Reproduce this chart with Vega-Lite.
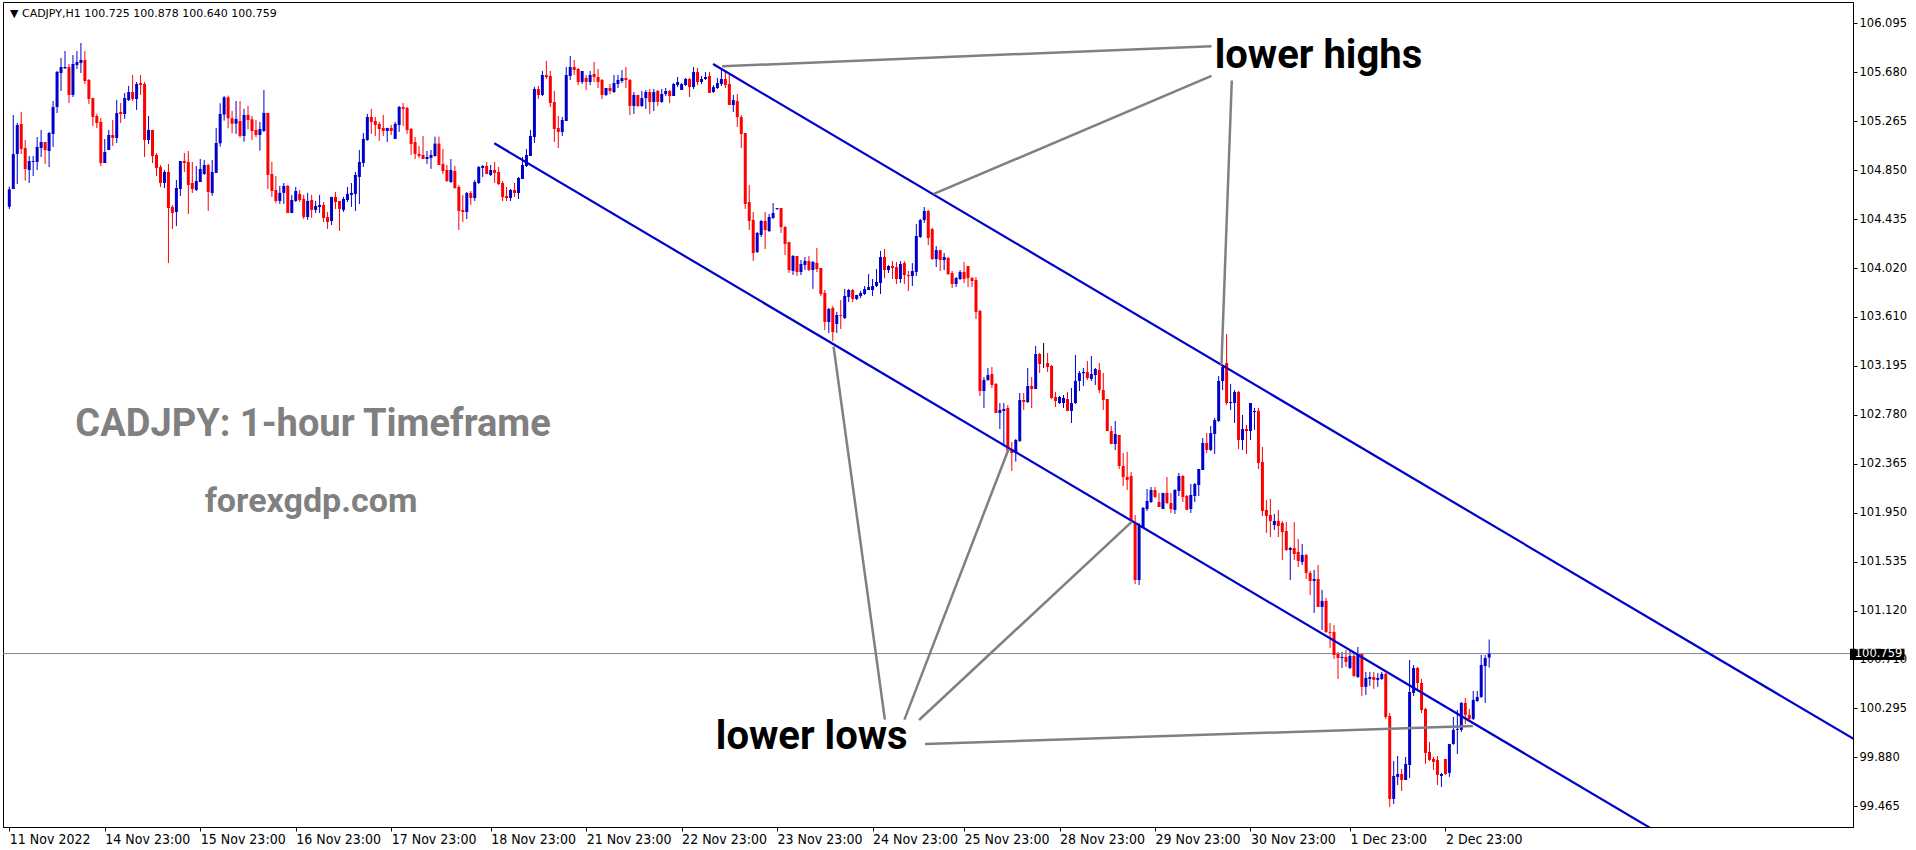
{
"$schema": "https://vega.github.io/schema/vega-lite/v6.json",
"width": 1850, "height": 825,
"padding": {"left": 2, "top": 2, "right": 0, "bottom": 0},
"autosize": {"type": "pad"},
"background": "#ffffff",
"config": {"view": {"stroke": "#000000", "strokeWidth": 1}, "axis": {"grid": false, "domainColor": "#000000", "tickColor": "#000000", "labelColor": "#000000", "domainWidth": 1, "tickWidth": 1}},
"datasets": {
"bars": [
{"i":0,"o":104.542,"h":104.712,"l":104.523,"c":104.689},
{"i":1,"o":104.692,"h":105.318,"l":104.692,"c":104.988},
{"i":2,"o":104.988,"h":105.251,"l":104.734,"c":105.234},
{"i":3,"o":105.242,"h":105.344,"l":104.988,"c":105.031},
{"i":4,"o":105.039,"h":105.107,"l":104.763,"c":104.861},
{"i":5,"o":104.853,"h":104.971,"l":104.743,"c":104.929},
{"i":6,"o":104.921,"h":104.971,"l":104.802,"c":104.929},
{"i":7,"o":104.921,"h":105.132,"l":104.853,"c":105.048},
{"i":8,"o":105.039,"h":105.192,"l":104.963,"c":105.090},
{"i":9,"o":105.090,"h":105.090,"l":104.904,"c":105.022},
{"i":10,"o":105.014,"h":105.175,"l":104.878,"c":105.166},
{"i":11,"o":105.158,"h":105.437,"l":105.048,"c":105.386},
{"i":12,"o":105.386,"h":105.691,"l":105.335,"c":105.683},
{"i":13,"o":105.674,"h":105.801,"l":105.522,"c":105.725},
{"i":14,"o":105.714,"h":105.860,"l":105.708,"c":105.725},
{"i":15,"o":105.725,"h":105.750,"l":105.420,"c":105.488},
{"i":16,"o":105.488,"h":105.826,"l":105.471,"c":105.750},
{"i":17,"o":105.742,"h":105.860,"l":105.708,"c":105.767},
{"i":18,"o":105.759,"h":105.928,"l":105.674,"c":105.784},
{"i":19,"o":105.784,"h":105.860,"l":105.581,"c":105.606},
{"i":20,"o":105.615,"h":105.623,"l":105.412,"c":105.454},
{"i":21,"o":105.462,"h":105.462,"l":105.225,"c":105.302},
{"i":22,"o":105.310,"h":105.327,"l":105.208,"c":105.251},
{"i":23,"o":105.259,"h":105.293,"l":104.887,"c":104.912},
{"i":24,"o":104.912,"h":105.115,"l":104.912,"c":105.005},
{"i":25,"o":105.022,"h":105.192,"l":105.022,"c":105.149},
{"i":26,"o":105.149,"h":105.276,"l":105.056,"c":105.124},
{"i":27,"o":105.124,"h":105.445,"l":105.081,"c":105.335},
{"i":28,"o":105.344,"h":105.420,"l":105.251,"c":105.327},
{"i":29,"o":105.327,"h":105.505,"l":105.285,"c":105.462},
{"i":30,"o":105.445,"h":105.564,"l":105.437,"c":105.513},
{"i":31,"o":105.513,"h":105.657,"l":105.437,"c":105.454},
{"i":32,"o":105.454,"h":105.598,"l":105.361,"c":105.581},
{"i":33,"o":105.589,"h":105.657,"l":105.488,"c":105.572},
{"i":34,"o":105.581,"h":105.598,"l":104.963,"c":105.107},
{"i":35,"o":105.107,"h":105.310,"l":105.073,"c":105.192},
{"i":36,"o":105.192,"h":105.192,"l":104.912,"c":104.971},
{"i":37,"o":104.980,"h":104.997,"l":104.802,"c":104.870},
{"i":38,"o":104.878,"h":104.895,"l":104.709,"c":104.743},
{"i":39,"o":104.743,"h":104.853,"l":104.700,"c":104.836},
{"i":40,"o":104.836,"h":104.904,"l":104.066,"c":104.531},
{"i":41,"o":104.540,"h":104.557,"l":104.353,"c":104.489},
{"i":42,"o":104.497,"h":104.768,"l":104.379,"c":104.700},
{"i":43,"o":104.692,"h":104.929,"l":104.633,"c":104.929},
{"i":44,"o":104.929,"h":104.997,"l":104.836,"c":104.912},
{"i":45,"o":104.921,"h":105.014,"l":104.480,"c":104.726},
{"i":46,"o":104.743,"h":104.921,"l":104.658,"c":104.692},
{"i":47,"o":104.684,"h":104.887,"l":104.675,"c":104.760},
{"i":48,"o":104.751,"h":104.946,"l":104.751,"c":104.861},
{"i":49,"o":104.819,"h":104.938,"l":104.811,"c":104.895},
{"i":50,"o":104.895,"h":104.904,"l":104.506,"c":104.667},
{"i":51,"o":104.658,"h":104.938,"l":104.633,"c":104.836},
{"i":52,"o":104.828,"h":105.208,"l":104.828,"c":105.081},
{"i":53,"o":105.079,"h":105.418,"l":105.051,"c":105.327},
{"i":54,"o":105.322,"h":105.480,"l":105.271,"c":105.468},
{"i":55,"o":105.468,"h":105.482,"l":105.206,"c":105.291},
{"i":56,"o":105.291,"h":105.353,"l":105.164,"c":105.245},
{"i":57,"o":105.245,"h":105.437,"l":105.158,"c":105.285},
{"i":58,"o":105.268,"h":105.437,"l":105.127,"c":105.141},
{"i":59,"o":105.141,"h":105.370,"l":105.093,"c":105.319},
{"i":60,"o":105.319,"h":105.395,"l":105.197,"c":105.276},
{"i":61,"o":105.282,"h":105.310,"l":105.107,"c":105.183},
{"i":62,"o":105.192,"h":105.276,"l":105.130,"c":105.149},
{"i":63,"o":105.149,"h":105.259,"l":105.017,"c":105.200},
{"i":64,"o":105.183,"h":105.530,"l":105.175,"c":105.336},
{"i":65,"o":105.336,"h":105.336,"l":104.692,"c":104.811},
{"i":66,"o":104.819,"h":104.921,"l":104.625,"c":104.675},
{"i":67,"o":104.684,"h":104.802,"l":104.574,"c":104.591},
{"i":68,"o":104.591,"h":104.718,"l":104.565,"c":104.659},
{"i":69,"o":104.659,"h":104.743,"l":104.565,"c":104.718},
{"i":70,"o":104.718,"h":104.726,"l":104.489,"c":104.489},
{"i":71,"o":104.489,"h":104.642,"l":104.489,"c":104.599},
{"i":72,"o":104.591,"h":104.709,"l":104.582,"c":104.675},
{"i":73,"o":104.650,"h":104.684,"l":104.582,"c":104.599},
{"i":74,"o":104.608,"h":104.642,"l":104.438,"c":104.455},
{"i":75,"o":104.455,"h":104.659,"l":104.430,"c":104.591},
{"i":76,"o":104.599,"h":104.642,"l":104.447,"c":104.515},
{"i":77,"o":104.515,"h":104.591,"l":104.489,"c":104.548},
{"i":78,"o":104.540,"h":104.642,"l":104.489,"c":104.557},
{"i":79,"o":104.557,"h":104.582,"l":104.413,"c":104.447},
{"i":80,"o":104.455,"h":104.498,"l":104.354,"c":104.413},
{"i":81,"o":104.421,"h":104.625,"l":104.387,"c":104.625},
{"i":82,"o":104.625,"h":104.667,"l":104.523,"c":104.582},
{"i":83,"o":104.591,"h":104.591,"l":104.337,"c":104.523},
{"i":84,"o":104.515,"h":104.625,"l":104.498,"c":104.608},
{"i":85,"o":104.599,"h":104.709,"l":104.582,"c":104.650},
{"i":86,"o":104.642,"h":104.743,"l":104.540,"c":104.659},
{"i":87,"o":104.650,"h":104.836,"l":104.506,"c":104.811},
{"i":88,"o":104.794,"h":105.022,"l":104.565,"c":104.921},
{"i":89,"o":104.912,"h":105.166,"l":104.879,"c":105.116},
{"i":90,"o":105.107,"h":105.327,"l":105.099,"c":105.302},
{"i":91,"o":105.302,"h":105.370,"l":105.158,"c":105.259},
{"i":92,"o":105.268,"h":105.302,"l":105.141,"c":105.234},
{"i":93,"o":105.243,"h":105.259,"l":105.099,"c":105.200},
{"i":94,"o":105.209,"h":105.319,"l":105.141,"c":105.183},
{"i":95,"o":105.183,"h":105.209,"l":105.090,"c":105.209},
{"i":96,"o":105.209,"h":105.234,"l":105.149,"c":105.183},
{"i":97,"o":105.116,"h":105.259,"l":105.116,"c":105.243},
{"i":98,"o":105.234,"h":105.395,"l":105.175,"c":105.386},
{"i":99,"o":105.386,"h":105.420,"l":105.226,"c":105.370},
{"i":100,"o":105.378,"h":105.386,"l":105.158,"c":105.192},
{"i":101,"o":105.200,"h":105.209,"l":104.980,"c":105.073},
{"i":102,"o":105.090,"h":105.133,"l":104.946,"c":104.989},
{"i":103,"o":104.989,"h":105.056,"l":104.955,"c":104.972},
{"i":104,"o":104.980,"h":105.141,"l":104.946,"c":104.946},
{"i":105,"o":104.946,"h":105.014,"l":104.904,"c":104.963},
{"i":106,"o":104.955,"h":105.022,"l":104.862,"c":104.980},
{"i":107,"o":104.971,"h":105.135,"l":104.966,"c":105.076},
{"i":108,"o":105.076,"h":105.135,"l":104.895,"c":104.895},
{"i":109,"o":104.904,"h":105.031,"l":104.819,"c":104.844},
{"i":110,"o":104.853,"h":104.895,"l":104.751,"c":104.760},
{"i":111,"o":104.751,"h":104.946,"l":104.743,"c":104.853},
{"i":112,"o":104.844,"h":104.887,"l":104.692,"c":104.701},
{"i":113,"o":104.709,"h":104.726,"l":104.345,"c":104.506},
{"i":114,"o":104.514,"h":104.641,"l":104.413,"c":104.497},
{"i":115,"o":104.497,"h":104.667,"l":104.438,"c":104.658},
{"i":116,"o":104.658,"h":104.675,"l":104.557,"c":104.616},
{"i":117,"o":104.616,"h":104.768,"l":104.590,"c":104.751},
{"i":118,"o":104.743,"h":104.887,"l":104.734,"c":104.878},
{"i":119,"o":104.870,"h":104.895,"l":104.794,"c":104.887},
{"i":120,"o":104.887,"h":104.921,"l":104.819,"c":104.819},
{"i":121,"o":104.811,"h":104.895,"l":104.802,"c":104.853},
{"i":122,"o":104.853,"h":104.921,"l":104.743,"c":104.828},
{"i":123,"o":104.836,"h":104.878,"l":104.726,"c":104.734},
{"i":124,"o":104.743,"h":104.760,"l":104.590,"c":104.624},
{"i":125,"o":104.633,"h":104.709,"l":104.590,"c":104.616},
{"i":126,"o":104.616,"h":104.692,"l":104.590,"c":104.684},
{"i":127,"o":104.684,"h":104.743,"l":104.624,"c":104.658},
{"i":128,"o":104.658,"h":104.794,"l":104.607,"c":104.785},
{"i":129,"o":104.777,"h":104.963,"l":104.777,"c":104.895},
{"i":130,"o":104.887,"h":105.031,"l":104.878,"c":104.980},
{"i":131,"o":104.971,"h":105.192,"l":104.971,"c":105.141},
{"i":132,"o":105.132,"h":105.556,"l":105.081,"c":105.539},
{"i":133,"o":105.539,"h":105.564,"l":105.454,"c":105.488},
{"i":134,"o":105.488,"h":105.691,"l":105.479,"c":105.657},
{"i":135,"o":105.657,"h":105.776,"l":105.623,"c":105.640},
{"i":136,"o":105.649,"h":105.691,"l":105.386,"c":105.420},
{"i":137,"o":105.428,"h":105.522,"l":105.090,"c":105.200},
{"i":138,"o":105.208,"h":105.310,"l":105.039,"c":105.175},
{"i":139,"o":105.175,"h":105.302,"l":105.141,"c":105.276},
{"i":140,"o":105.268,"h":105.725,"l":105.268,"c":105.657},
{"i":141,"o":105.649,"h":105.818,"l":105.615,"c":105.725},
{"i":142,"o":105.725,"h":105.784,"l":105.657,"c":105.699},
{"i":143,"o":105.708,"h":105.716,"l":105.572,"c":105.598},
{"i":144,"o":105.598,"h":105.691,"l":105.581,"c":105.691},
{"i":145,"o":105.632,"h":105.657,"l":105.530,"c":105.598},
{"i":146,"o":105.598,"h":105.691,"l":105.572,"c":105.657},
{"i":147,"o":105.666,"h":105.767,"l":105.598,"c":105.640},
{"i":148,"o":105.640,"h":105.708,"l":105.547,"c":105.598},
{"i":149,"o":105.615,"h":105.623,"l":105.454,"c":105.488},
{"i":150,"o":105.488,"h":105.547,"l":105.479,"c":105.547},
{"i":151,"o":105.547,"h":105.581,"l":105.496,"c":105.522},
{"i":152,"o":105.513,"h":105.657,"l":105.505,"c":105.589},
{"i":153,"o":105.581,"h":105.657,"l":105.547,"c":105.615},
{"i":154,"o":105.606,"h":105.699,"l":105.589,"c":105.632},
{"i":155,"o":105.632,"h":105.725,"l":105.547,"c":105.615},
{"i":156,"o":105.615,"h":105.623,"l":105.318,"c":105.395},
{"i":157,"o":105.395,"h":105.513,"l":105.327,"c":105.488},
{"i":158,"o":105.488,"h":105.488,"l":105.386,"c":105.395},
{"i":159,"o":105.395,"h":105.522,"l":105.386,"c":105.462},
{"i":160,"o":105.462,"h":105.530,"l":105.369,"c":105.513},
{"i":161,"o":105.513,"h":105.539,"l":105.327,"c":105.429},
{"i":162,"o":105.429,"h":105.539,"l":105.352,"c":105.513},
{"i":163,"o":105.522,"h":105.530,"l":105.395,"c":105.429},
{"i":164,"o":105.429,"h":105.539,"l":105.420,"c":105.496},
{"i":165,"o":105.496,"h":105.547,"l":105.479,"c":105.522},
{"i":166,"o":105.522,"h":105.530,"l":105.420,"c":105.479},
{"i":167,"o":105.479,"h":105.589,"l":105.479,"c":105.581},
{"i":168,"o":105.572,"h":105.640,"l":105.555,"c":105.598},
{"i":169,"o":105.530,"h":105.589,"l":105.530,"c":105.581},
{"i":170,"o":105.572,"h":105.632,"l":105.564,"c":105.623},
{"i":171,"o":105.623,"h":105.632,"l":105.471,"c":105.555},
{"i":172,"o":105.555,"h":105.725,"l":105.539,"c":105.682},
{"i":173,"o":105.682,"h":105.716,"l":105.572,"c":105.598},
{"i":174,"o":105.598,"h":105.649,"l":105.581,"c":105.623},
{"i":175,"o":105.623,"h":105.682,"l":105.615,"c":105.640},
{"i":176,"o":105.649,"h":105.682,"l":105.505,"c":105.505},
{"i":177,"o":105.513,"h":105.572,"l":105.505,"c":105.555},
{"i":178,"o":105.547,"h":105.632,"l":105.539,"c":105.589},
{"i":179,"o":105.581,"h":105.708,"l":105.564,"c":105.623},
{"i":180,"o":105.623,"h":105.699,"l":105.547,"c":105.572},
{"i":181,"o":105.581,"h":105.665,"l":105.403,"c":105.403},
{"i":182,"o":105.403,"h":105.488,"l":105.344,"c":105.445},
{"i":183,"o":105.437,"h":105.496,"l":105.217,"c":105.301},
{"i":184,"o":105.301,"h":105.318,"l":105.039,"c":105.158},
{"i":185,"o":105.166,"h":105.166,"l":104.523,"c":104.565},
{"i":186,"o":104.582,"h":104.726,"l":104.345,"c":104.421},
{"i":187,"o":104.430,"h":104.497,"l":104.083,"c":104.150},
{"i":188,"o":104.159,"h":104.328,"l":104.150,"c":104.320},
{"i":189,"o":104.303,"h":104.430,"l":104.286,"c":104.421},
{"i":190,"o":104.421,"h":104.497,"l":104.184,"c":104.345},
{"i":191,"o":104.336,"h":104.480,"l":104.328,"c":104.455},
{"i":192,"o":104.447,"h":104.573,"l":104.438,"c":104.489},
{"i":193,"o":104.523,"h":104.531,"l":104.514,"c":104.531},
{"i":194,"o":104.531,"h":104.531,"l":104.320,"c":104.370},
{"i":195,"o":104.370,"h":104.379,"l":104.133,"c":104.226},
{"i":196,"o":104.243,"h":104.243,"l":103.981,"c":104.006},
{"i":197,"o":103.998,"h":104.133,"l":103.964,"c":104.125},
{"i":198,"o":104.125,"h":104.125,"l":103.956,"c":103.989},
{"i":199,"o":103.989,"h":104.091,"l":103.964,"c":104.057},
{"i":200,"o":104.049,"h":104.116,"l":104.006,"c":104.083},
{"i":201,"o":104.083,"h":104.125,"l":103.998,"c":104.006},
{"i":202,"o":104.006,"h":104.083,"l":103.846,"c":104.074},
{"i":203,"o":104.066,"h":104.193,"l":103.989,"c":104.015},
{"i":204,"o":104.023,"h":104.023,"l":103.786,"c":103.803},
{"i":205,"o":103.812,"h":103.837,"l":103.498,"c":103.566},
{"i":206,"o":103.566,"h":103.685,"l":103.473,"c":103.676},
{"i":207,"o":103.685,"h":103.702,"l":103.405,"c":103.481},
{"i":208,"o":103.549,"h":103.651,"l":103.473,"c":103.625},
{"i":209,"o":103.625,"h":103.752,"l":103.507,"c":103.617},
{"i":210,"o":103.600,"h":103.846,"l":103.591,"c":103.786},
{"i":211,"o":103.778,"h":103.846,"l":103.735,"c":103.837},
{"i":212,"o":103.837,"h":103.846,"l":103.735,"c":103.761},
{"i":213,"o":103.761,"h":103.795,"l":103.752,"c":103.795},
{"i":214,"o":103.786,"h":103.829,"l":103.769,"c":103.812},
{"i":215,"o":103.803,"h":103.871,"l":103.795,"c":103.845},
{"i":216,"o":103.837,"h":103.972,"l":103.837,"c":103.862},
{"i":217,"o":103.837,"h":103.930,"l":103.786,"c":103.871},
{"i":218,"o":103.871,"h":104.015,"l":103.862,"c":103.905},
{"i":219,"o":103.896,"h":104.167,"l":103.803,"c":104.116},
{"i":220,"o":104.116,"h":104.184,"l":103.938,"c":104.006},
{"i":221,"o":104.006,"h":104.048,"l":103.981,"c":104.040},
{"i":222,"o":104.040,"h":104.082,"l":103.930,"c":104.023},
{"i":223,"o":104.031,"h":104.074,"l":103.888,"c":103.930},
{"i":224,"o":103.930,"h":104.082,"l":103.896,"c":104.057},
{"i":225,"o":104.065,"h":104.082,"l":103.888,"c":103.964},
{"i":226,"o":103.964,"h":103.998,"l":103.828,"c":103.955},
{"i":227,"o":103.955,"h":104.065,"l":103.871,"c":103.998},
{"i":228,"o":103.989,"h":104.396,"l":103.955,"c":104.294},
{"i":229,"o":104.286,"h":104.438,"l":104.277,"c":104.429},
{"i":230,"o":104.429,"h":104.539,"l":104.404,"c":104.506},
{"i":231,"o":104.506,"h":104.514,"l":104.218,"c":104.277},
{"i":232,"o":104.353,"h":104.362,"l":104.091,"c":104.099},
{"i":233,"o":104.099,"h":104.209,"l":104.031,"c":104.175},
{"i":234,"o":104.175,"h":104.175,"l":103.998,"c":104.091},
{"i":235,"o":104.091,"h":104.150,"l":104.006,"c":104.116},
{"i":236,"o":104.108,"h":104.116,"l":103.964,"c":103.972},
{"i":237,"o":103.981,"h":103.998,"l":103.854,"c":103.888},
{"i":238,"o":103.888,"h":103.947,"l":103.862,"c":103.938},
{"i":239,"o":103.930,"h":104.006,"l":103.921,"c":103.989},
{"i":240,"o":103.989,"h":104.074,"l":103.896,"c":103.930},
{"i":241,"o":104.040,"h":104.040,"l":103.862,"c":103.938},
{"i":242,"o":103.938,"h":103.947,"l":103.862,"c":103.913},
{"i":243,"o":103.921,"h":103.947,"l":103.591,"c":103.651},
{"i":244,"o":103.659,"h":103.668,"l":102.940,"c":102.982},
{"i":245,"o":102.982,"h":103.100,"l":102.838,"c":103.075},
{"i":246,"o":103.075,"h":103.177,"l":103.067,"c":103.117},
{"i":247,"o":103.126,"h":103.185,"l":103.007,"c":103.033},
{"i":248,"o":103.041,"h":103.050,"l":102.796,"c":102.796},
{"i":249,"o":102.796,"h":102.880,"l":102.660,"c":102.821},
{"i":250,"o":102.813,"h":102.880,"l":102.525,"c":102.830},
{"i":251,"o":102.838,"h":102.863,"l":102.468,"c":102.474},
{"i":252,"o":102.491,"h":102.550,"l":102.305,"c":102.457},
{"i":253,"o":102.457,"h":102.576,"l":102.384,"c":102.567},
{"i":254,"o":102.559,"h":102.965,"l":102.550,"c":102.906},
{"i":255,"o":102.906,"h":102.965,"l":102.821,"c":102.889},
{"i":256,"o":102.889,"h":103.177,"l":102.880,"c":103.024},
{"i":257,"o":103.024,"h":103.100,"l":102.838,"c":102.999},
{"i":258,"o":102.999,"h":103.363,"l":102.999,"c":103.295},
{"i":259,"o":103.295,"h":103.304,"l":103.134,"c":103.210},
{"i":260,"o":103.225,"h":103.388,"l":103.177,"c":103.225},
{"i":261,"o":103.219,"h":103.304,"l":103.143,"c":103.185},
{"i":262,"o":103.194,"h":103.202,"l":102.914,"c":102.923},
{"i":263,"o":102.931,"h":102.973,"l":102.846,"c":102.897},
{"i":264,"o":102.880,"h":102.940,"l":102.872,"c":102.931},
{"i":265,"o":102.880,"h":102.948,"l":102.838,"c":102.923},
{"i":266,"o":102.914,"h":102.973,"l":102.813,"c":102.813},
{"i":267,"o":102.813,"h":103.007,"l":102.711,"c":102.880},
{"i":268,"o":102.880,"h":103.287,"l":102.872,"c":103.067},
{"i":269,"o":103.067,"h":103.151,"l":102.982,"c":103.134},
{"i":270,"o":103.132,"h":103.177,"l":103.024,"c":103.143},
{"i":271,"o":103.143,"h":103.236,"l":103.075,"c":103.092},
{"i":272,"o":103.084,"h":103.278,"l":103.067,"c":103.126},
{"i":273,"o":103.117,"h":103.177,"l":103.033,"c":103.168},
{"i":274,"o":103.160,"h":103.219,"l":102.965,"c":102.990},
{"i":275,"o":102.990,"h":103.134,"l":102.821,"c":102.906},
{"i":276,"o":102.914,"h":102.914,"l":102.643,"c":102.643},
{"i":277,"o":102.643,"h":102.686,"l":102.533,"c":102.533},
{"i":278,"o":102.533,"h":102.728,"l":102.483,"c":102.618},
{"i":279,"o":102.610,"h":102.610,"l":102.322,"c":102.347},
{"i":280,"o":102.347,"h":102.457,"l":102.178,"c":102.254},
{"i":281,"o":102.254,"h":102.466,"l":102.144,"c":102.229},
{"i":282,"o":102.262,"h":102.296,"l":101.873,"c":101.882},
{"i":283,"o":101.865,"h":101.932,"l":101.348,"c":101.382},
{"i":284,"o":101.382,"h":101.865,"l":101.340,"c":101.839},
{"i":285,"o":101.822,"h":102.000,"l":101.822,"c":101.992},
{"i":286,"o":101.983,"h":102.152,"l":101.966,"c":102.051},
{"i":287,"o":102.042,"h":102.169,"l":102.034,"c":102.144},
{"i":288,"o":102.144,"h":102.169,"l":102.076,"c":102.085},
{"i":289,"o":102.042,"h":102.119,"l":102.000,"c":102.000},
{"i":290,"o":101.983,"h":102.119,"l":101.983,"c":102.119},
{"i":291,"o":102.119,"h":102.254,"l":102.025,"c":102.034},
{"i":292,"o":102.034,"h":102.119,"l":101.949,"c":101.983},
{"i":293,"o":101.975,"h":102.152,"l":101.941,"c":102.144},
{"i":294,"o":102.136,"h":102.288,"l":102.093,"c":102.262},
{"i":295,"o":102.262,"h":102.271,"l":102.042,"c":102.085},
{"i":296,"o":102.093,"h":102.102,"l":101.975,"c":101.975},
{"i":297,"o":101.983,"h":102.195,"l":101.949,"c":102.102},
{"i":298,"o":102.093,"h":102.203,"l":102.042,"c":102.195},
{"i":299,"o":102.186,"h":102.322,"l":102.093,"c":102.322},
{"i":300,"o":102.313,"h":102.584,"l":102.313,"c":102.542},
{"i":301,"o":102.542,"h":102.626,"l":102.457,"c":102.483},
{"i":302,"o":102.483,"h":102.686,"l":102.474,"c":102.626},
{"i":303,"o":102.618,"h":102.753,"l":102.449,"c":102.737},
{"i":304,"o":102.728,"h":103.109,"l":102.720,"c":103.067},
{"i":305,"o":103.067,"h":103.211,"l":102.990,"c":103.185},
{"i":306,"o":103.219,"h":103.465,"l":102.864,"c":102.880},
{"i":307,"o":102.880,"h":103.041,"l":102.821,"c":102.889},
{"i":308,"o":102.880,"h":102.990,"l":102.711,"c":102.974},
{"i":309,"o":102.974,"h":102.982,"l":102.491,"c":102.567},
{"i":310,"o":102.567,"h":102.779,"l":102.483,"c":102.660},
{"i":311,"o":102.660,"h":102.694,"l":102.449,"c":102.643},
{"i":312,"o":102.643,"h":102.880,"l":102.567,"c":102.880},
{"i":313,"o":102.804,"h":102.838,"l":102.652,"c":102.813},
{"i":314,"o":102.813,"h":102.838,"l":102.322,"c":102.373},
{"i":315,"o":102.381,"h":102.508,"l":101.924,"c":101.966},
{"i":316,"o":101.975,"h":102.059,"l":101.780,"c":101.924},
{"i":317,"o":101.932,"h":102.068,"l":101.746,"c":101.882},
{"i":318,"o":101.848,"h":101.941,"l":101.805,"c":101.882},
{"i":319,"o":101.882,"h":101.975,"l":101.746,"c":101.839},
{"i":320,"o":101.865,"h":101.882,"l":101.551,"c":101.788},
{"i":321,"o":101.797,"h":101.873,"l":101.628,"c":101.636},
{"i":322,"o":101.636,"h":101.662,"l":101.382,"c":101.653},
{"i":323,"o":101.653,"h":101.873,"l":101.552,"c":101.602},
{"i":324,"o":101.619,"h":101.729,"l":101.492,"c":101.543},
{"i":325,"o":101.535,"h":101.687,"l":101.509,"c":101.594},
{"i":326,"o":101.594,"h":101.602,"l":101.391,"c":101.442},
{"i":327,"o":101.442,"h":101.459,"l":101.255,"c":101.374},
{"i":328,"o":101.374,"h":101.467,"l":101.103,"c":101.391},
{"i":329,"o":101.391,"h":101.509,"l":101.154,"c":101.154},
{"i":330,"o":101.154,"h":101.298,"l":100.959,"c":101.205},
{"i":331,"o":101.205,"h":101.230,"l":100.934,"c":100.942},
{"i":332,"o":100.942,"h":101.018,"l":100.807,"c":100.934},
{"i":333,"o":100.942,"h":101.001,"l":100.714,"c":100.747},
{"i":334,"o":100.756,"h":100.773,"l":100.544,"c":100.722},
{"i":335,"o":100.722,"h":100.773,"l":100.637,"c":100.731},
{"i":336,"o":100.731,"h":100.790,"l":100.646,"c":100.688},
{"i":337,"o":100.637,"h":100.781,"l":100.629,"c":100.739},
{"i":338,"o":100.739,"h":100.756,"l":100.561,"c":100.570},
{"i":339,"o":100.561,"h":100.815,"l":100.553,"c":100.756},
{"i":340,"o":100.756,"h":100.756,"l":100.400,"c":100.477},
{"i":341,"o":100.477,"h":100.604,"l":100.409,"c":100.553},
{"i":342,"o":100.544,"h":100.604,"l":100.485,"c":100.561},
{"i":343,"o":100.561,"h":100.604,"l":100.460,"c":100.536},
{"i":344,"o":100.536,"h":100.595,"l":100.477,"c":100.553},
{"i":345,"o":100.544,"h":100.604,"l":100.536,"c":100.587},
{"i":346,"o":100.587,"h":100.595,"l":100.206,"c":100.223},
{"i":347,"o":100.231,"h":100.256,"l":99.461,"c":99.528},
{"i":348,"o":99.528,"h":99.850,"l":99.486,"c":99.723},
{"i":349,"o":99.715,"h":99.892,"l":99.647,"c":99.740},
{"i":350,"o":99.740,"h":99.782,"l":99.596,"c":99.689},
{"i":351,"o":99.689,"h":99.884,"l":99.689,"c":99.825},
{"i":352,"o":99.816,"h":100.705,"l":99.706,"c":100.434},
{"i":353,"o":100.426,"h":100.663,"l":100.400,"c":100.637},
{"i":354,"o":100.637,"h":100.646,"l":100.451,"c":100.510},
{"i":355,"o":100.510,"h":100.544,"l":100.256,"c":100.282},
{"i":356,"o":100.290,"h":100.299,"l":99.825,"c":99.918},
{"i":357,"o":99.926,"h":100.011,"l":99.850,"c":99.859},
{"i":358,"o":99.867,"h":99.884,"l":99.774,"c":99.842},
{"i":359,"o":99.859,"h":99.892,"l":99.647,"c":99.732},
{"i":360,"o":99.723,"h":99.749,"l":99.630,"c":99.740},
{"i":361,"o":99.867,"h":99.867,"l":99.732,"c":99.740},
{"i":362,"o":99.749,"h":99.994,"l":99.715,"c":99.994},
{"i":363,"o":99.994,"h":100.223,"l":99.986,"c":100.113},
{"i":364,"o":100.113,"h":100.282,"l":99.909,"c":100.121},
{"i":365,"o":100.113,"h":100.350,"l":100.096,"c":100.341},
{"i":366,"o":100.341,"h":100.383,"l":100.163,"c":100.240},
{"i":367,"o":100.240,"h":100.290,"l":100.197,"c":100.206},
{"i":368,"o":100.206,"h":100.443,"l":100.197,"c":100.367},
{"i":369,"o":100.358,"h":100.443,"l":100.350,"c":100.392},
{"i":370,"o":100.392,"h":100.747,"l":100.383,"c":100.663},
{"i":371,"o":100.654,"h":100.747,"l":100.341,"c":100.722},
{"i":372,"o":100.725,"h":100.878,"l":100.640,"c":100.759}
],
"channel": [
{"g":"upper","i":176.9,"p":105.750},{"g":"upper","i":470,"p":99.909},
{"g":"lower","i":121.9,"p":105.079},{"g":"lower","i":420,"p":99.133}
],
"gray": [
{"g":"a","i":179.2,"p":105.731},{"g":"a","i":302.2,"p":105.901},
{"g":"b","i":232.4,"p":104.650},{"g":"b","i":302.2,"p":105.649},
{"g":"c","i":304.7,"p":103.202},{"g":"c","i":307.3,"p":105.611},
{"g":"d","i":207.2,"p":103.358},{"g":"d","i":220.1,"p":100.200},
{"g":"e","i":251.2,"p":102.491},{"g":"e","i":225.0,"p":100.200},
{"g":"f","i":282.2,"p":101.876},{"g":"f","i":228.7,"p":100.197},
{"g":"g","i":230.2,"p":99.994},{"g":"g","i":367.9,"p":100.146}
],
"one": [{"k": 1}]
},
"layer": [
{"data": {"name": "bars"}, "mark": {"type": "rule", "strokeWidth": 1},
 "encoding": {
  "x": {"field": "i", "type": "quantitative", "title": null,
   "scale": {"domain": [-0.33, 462.2], "nice": false, "zero": false},
   "axis": {"orient": "bottom", "values": [0,24,48,72,96,121,145,169,193,217,240,264,288,312,337,361],
    "labelExpr": "['11 Nov 2022','14 Nov 23:00','15 Nov 23:00','16 Nov 23:00','17 Nov 23:00','18 Nov 23:00','21 Nov 23:00','22 Nov 23:00','23 Nov 23:00','24 Nov 23:00','25 Nov 23:00','28 Nov 23:00','29 Nov 23:00','30 Nov 23:00','1 Dec 23:00','2 Dec 23:00'][indexof([0,24,48,72,96,121,145,169,193,217,240,264,288,312,337,361], datum.value)]",
    "labelAlign": "left", "labelBaseline": "top", "labelPadding": 1, "tickSize": 4,
    "labelFont": "Liberation Sans Narrow, DejaVu Sans Condensed, sans-serif", "labelFontSize": 14,
    "labelOverlap": false, "labelFlush": false, "labelBound": false}},
  "y": {"field": "l", "type": "quantitative", "title": null,
   "scale": {"domain": [99.291, 106.275], "nice": false, "zero": false},
   "axis": {"orient": "right", "values": [106.095,105.68,105.265,104.85,104.435,104.02,103.61,103.195,102.78,102.365,101.95,101.535,101.12,100.71,100.295,99.88,99.465],
    "format": ".3f", "tickSize": 4, "labelPadding": 2, "labelBaseline": "middle",
    "labelFont": "DejaVu Sans", "labelFontSize": 11.5, "labelOverlap": false, "labelFlush": false, "labelBound": false}},
  "y2": {"field": "h", "title": null},
  "color": {"condition": [{"test": "datum.c > datum.o", "value": "#0000cd"}, {"test": "datum.c < datum.o", "value": "#ff0000"}], "value": "#000000"}
 }},
{"data": {"name": "one"}, "mark": {"type": "rule", "color": "#778899", "strokeWidth": 1},
 "encoding": {
  "y": {"datum": 100.759, "type": "quantitative", "title": null,
   "scale": {"domain": [99.291, 106.275], "nice": false, "zero": false}}
 }},
{"data": {"name": "bars"}, "mark": {"type": "bar", "size": 3},
 "encoding": {
  "x": {"field": "i", "type": "quantitative", "title": null, "scale": {"domain": [-0.33, 462.2], "nice": false, "zero": false}},
  "y": {"field": "o", "type": "quantitative", "title": null, "scale": {"domain": [99.291, 106.275], "nice": false, "zero": false}},
  "y2": {"field": "c", "title": null},
  "color": {"condition": [{"test": "datum.c > datum.o", "value": "#0000cd"}, {"test": "datum.c < datum.o", "value": "#ff0000"}], "value": "#000000"}
 }},
{"data": {"name": "channel"}, "mark": {"type": "line", "color": "#0000cd", "strokeWidth": 2.2, "clip": true},
 "encoding": {
  "x": {"field": "i", "type": "quantitative", "title": null, "scale": {"domain": [-0.33, 462.2], "nice": false, "zero": false}},
  "y": {"field": "p", "type": "quantitative", "title": null, "scale": {"domain": [99.291, 106.275], "nice": false, "zero": false}},
  "detail": {"field": "g"}
 }},
{"data": {"name": "gray"}, "mark": {"type": "line", "color": "#808080", "strokeWidth": 2.5, "clip": true},
 "encoding": {
  "x": {"field": "i", "type": "quantitative", "title": null, "scale": {"domain": [-0.33, 462.2], "nice": false, "zero": false}},
  "y": {"field": "p", "type": "quantitative", "title": null, "scale": {"domain": [99.291, 106.275], "nice": false, "zero": false}},
  "detail": {"field": "g"}
 }},
{"data": {"name": "one"}, "mark": {"type": "text", "align": "left", "baseline": "alphabetic", "font": "DejaVu Sans", "fontSize": 11, "color": "#000000"},
 "encoding": {"x": {"datum": 0.17, "title": null}, "y": {"datum": 106.146, "title": null}, "text": {"value": "▼ CADJPY,H1  100.725 100.878 100.640 100.759"}}},
{"data": {"name": "one"}, "mark": {"type": "text", "align": "left", "baseline": "alphabetic", "font": "Roboto", "fontWeight": "bold", "fontSize": 40, "color": "#000000"},
 "encoding": {"x": {"datum": 303.0, "title": null}, "y": {"datum": 105.713, "title": null}, "text": {"value": "lower highs"}}},
{"data": {"name": "one"}, "mark": {"type": "text", "align": "left", "baseline": "alphabetic", "font": "Roboto", "fontWeight": "bold", "fontSize": 40, "color": "#000000"},
 "encoding": {"x": {"datum": 177.6, "title": null}, "y": {"datum": 99.955, "title": null}, "text": {"value": "lower lows"}}},
{"data": {"name": "one"}, "mark": {"type": "text", "align": "left", "baseline": "alphabetic", "font": "Roboto", "fontWeight": "bold", "fontSize": 38, "color": "#808080"},
 "encoding": {"x": {"datum": 16.6, "title": null}, "y": {"datum": 102.601, "title": null}, "text": {"value": "CADJPY: 1-hour Timeframe"}}},
{"data": {"name": "one"}, "mark": {"type": "text", "align": "left", "baseline": "alphabetic", "font": "Roboto", "fontWeight": "bold", "fontSize": 34, "color": "#808080"},
 "encoding": {"x": {"datum": 49.1, "title": null}, "y": {"datum": 101.961, "title": null}, "text": {"value": "forexgdp.com"}}},
{"data": {"name": "one"}, "mark": {"type": "rect", "color": "#000000", "clip": false},
 "encoding": {"x": {"datum": 462.7, "title": null}, "x2": {"datum": 476.4}, "y": {"datum": 100.800, "title": null}, "y2": {"datum": 100.705}}},
{"data": {"name": "one"}, "mark": {"type": "text", "align": "left", "baseline": "middle", "font": "DejaVu Sans", "fontSize": 11.5, "color": "#ffffff", "clip": false},
 "encoding": {"x": {"datum": 463.9, "title": null}, "y": {"datum": 100.755, "title": null}, "text": {"value": "100.759"}}}
]
}
